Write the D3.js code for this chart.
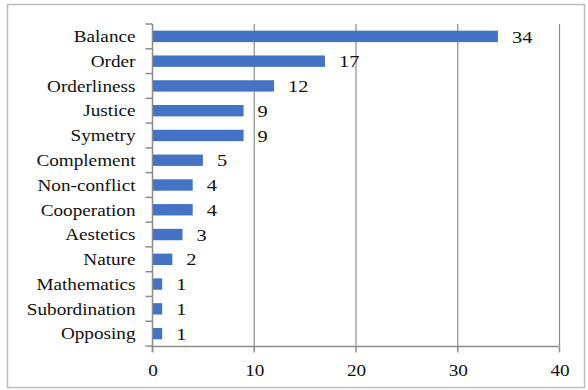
<!DOCTYPE html>
<html>
<head>
    <meta charset="utf-8">
    <style>
        body { margin: 0; background: #fff; }
    </style>
    <script src="https://d3js.org/d3.v7.min.js"></script>
</head>
<body>
    <script>
        const categories = ['Balance', 'Order', 'Orderliness', 'Justice', 'Symetry', 'Complement',
            'Non-conflict', 'Cooperation', 'Aestetics', 'Nature', 'Mathematics', 'Subordination', 'Opposing'];
        const counts = [34, 17, 12, 9, 9, 5, 4, 4, 3, 2, 1, 1, 1];
        const xTicks = [0, 10, 20, 30, 40];

        const width = 588, height = 390;
        const margin = { top: 24, right: 29, bottom: 44, left: 152 };
        const stretch = 1.2; // text in the picture is widened
        const serif = '"Liberation Serif"';

        const svg = d3.select('body').append('svg')
            .attr('width', width)
            .attr('height', height);

        // outer frame
        svg.append('rect')
            .attr('x', 7.5).attr('y', 4.5)
            .attr('width', 577).attr('height', 383)
            .attr('fill', 'none')
            .attr('stroke', '#bdbdbd')
            .attr('stroke-width', 1.5);

        const x = d3.scaleLinear()
            .domain([0, 40])
            .range([margin.left, width - margin.right]);
        const y = d3.scaleBand()
            .domain(categories)
            .range([margin.top, height - margin.bottom])
            .paddingInner(0.54)
            .paddingOuter(0.27);
        const step = y.step();

        // vertical gridlines
        svg.append('g').selectAll('line')
            .data(xTicks.slice(1))
            .join('line')
            .attr('x1', d => x(d) + 0.5).attr('x2', d => x(d) + 0.5)
            .attr('y1', margin.top).attr('y2', height - margin.bottom)
            .attr('stroke', '#8c8c8c')
            .attr('stroke-width', 1.2);

        // bars
        svg.append('g').selectAll('rect')
            .data(categories)
            .join('rect')
            .attr('x', x(0) + 1)
            .attr('y', d => y(d))
            .attr('width', (d, i) => x(counts[i]) - x(0) - 1)
            .attr('height', y.bandwidth())
            .attr('fill', '#4472c4');

        // value labels
        svg.append('g').selectAll('text')
            .data(categories)
            .join('text')
            .attr('transform', (d, i) => `translate(${x(counts[i]) + 14},${y(d) + y.bandwidth() / 2}) scale(${stretch},1)`)
            .attr('dy', '0.36em')
            .style('font-family', serif)
            .style('font-size', '17px')
            .attr('fill', '#111')
            .text((d, i) => counts[i]);

        // y axis
        const yAxis = svg.append('g')
            .attr('transform', `translate(${margin.left + 0.5},0)`);
        yAxis.append('line')
            .attr('y1', margin.top).attr('y2', height - margin.bottom + 6)
            .attr('stroke', '#8c8c8c').attr('stroke-width', 1.5);
        yAxis.selectAll('line.tick')
            .data(d3.range(categories.length + 1))
            .join('line')
            .attr('class', 'tick')
            .attr('x1', -7).attr('x2', 0)
            .attr('y1', i => margin.top + i * step).attr('y2', i => margin.top + i * step)
            .attr('stroke', '#8c8c8c').attr('stroke-width', 1.5);
        yAxis.selectAll('text')
            .data(categories)
            .join('text')
            .attr('transform', d => `translate(-17,${y(d) + y.bandwidth() / 2}) scale(${stretch},1)`)
            .attr('dy', '0.36em')
            .attr('text-anchor', 'end')
            .style('font-family', serif)
            .style('font-size', '16px')
            .attr('fill', '#111')
            .text(d => d);

        // x axis
        const xAxis = svg.append('g')
            .attr('transform', `translate(0,${height - margin.bottom + 0.5})`);
        xAxis.append('line')
            .attr('x1', margin.left).attr('x2', width - margin.right)
            .attr('stroke', '#8c8c8c').attr('stroke-width', 1.5);
        xAxis.selectAll('line.tick')
            .data(xTicks)
            .join('line')
            .attr('class', 'tick')
            .attr('x1', d => x(d) + 0.5).attr('x2', d => x(d) + 0.5)
            .attr('y1', 0).attr('y2', 6)
            .attr('stroke', '#8c8c8c').attr('stroke-width', 1.5);
        xAxis.selectAll('text')
            .data(xTicks)
            .join('text')
            .attr('transform', d => `translate(${x(d) + 1},24) scale(${stretch},1)`)
            .attr('dy', '0.36em')
            .attr('text-anchor', 'middle')
            .style('font-family', serif)
            .style('font-size', '16px')
            .attr('fill', '#111')
            .text(d => d);
    </script>
</body>
</html>
